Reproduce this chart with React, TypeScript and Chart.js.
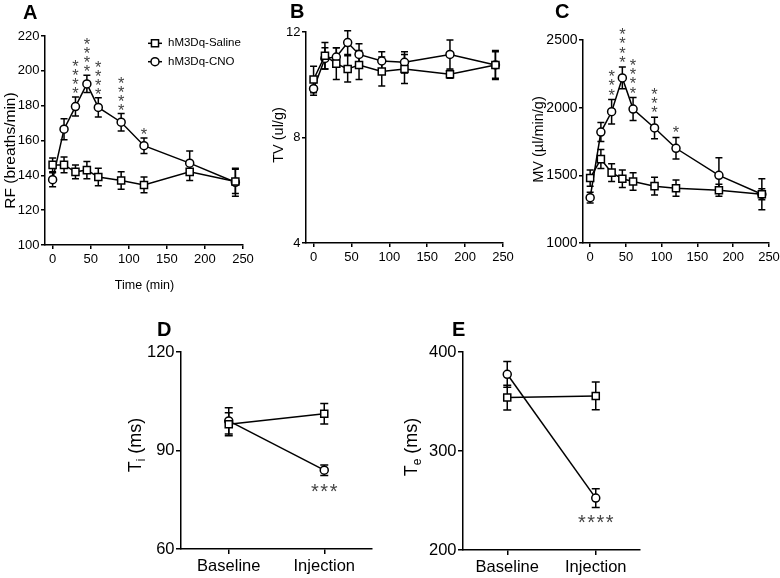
import React, { useEffect, useRef } from 'react';
import { Chart, registerables } from 'chart.js';

Chart.register(...registerables);

const FONT = 'Arial, "Liberation Sans", Helvetica, sans-serif';

// ---------- data ----------
const TIME_MIN = [0, 15, 30, 45, 60, 90, 120, 180, 240];
const TIME_TICKS = [0, 50, 100, 150, 200, 250];

const RF_SALINE = [146, 146, 142, 143, 139, 137, 134.5, 142, 136.5];
const RF_SALINE_SEM = [4, 4.5, 4, 5, 5, 5, 4.5, 5, 7];
const RF_CNO = [137.5, 166.5, 179.5, 192.5, 179, 170.5, 157, 147, 136];
const RF_CNO_SEM = [4, 6, 5.5, 5, 5.5, 5, 4.5, 7, 8];
const RF_STARS = [0, 0, 4, 4, 4, 4, 1, 0, 0];
const RF_TICKS = [100, 120, 140, 160, 180, 200, 220];

const TV_SALINE = [10.2, 11.1, 10.8, 10.6, 10.75, 10.5, 10.6, 10.4, 10.75];
const TV_SALINE_SEM = [0.5, 0.5, 0.6, 0.5, 0.55, 0.55, 0.55, 0.15, 0.5];
const TV_CNO = [9.85, 11.0, 11.05, 11.6, 11.15, 10.9, 10.85, 11.15, 10.75];
const TV_CNO_SEM = [0.25, 0.4, 0.35, 0.45, 0.4, 0.35, 0.4, 0.55, 0.55];
const TV_TICKS = [4, 8, 12];

const MV_SALINE = [1480, 1620, 1520, 1475, 1455, 1420, 1405, 1390, 1360];
const MV_SALINE_SEM = [60, 70, 65, 65, 65, 65, 60, 45, 40];
const MV_CNO = [1335, 1820, 1970, 2220, 1990, 1850, 1700, 1500, 1360];
const MV_CNO_SEM = [40, 70, 90, 80, 85, 80, 80, 130, 115];
const MV_STARS = [0, 0, 3, 4, 4, 3, 1, 0, 0];
const MV_TICKS = [1000, 1500, 2000, 2500];

const PHASES = ['Baseline', 'Injection'];
const TI_SALINE = [98, 101.2];
const TI_SALINE_SEM = [3.5, 3.1];
const TI_CNO = [99, 84];
const TI_CNO_SEM = [4, 1.6];
const TI_STARS = [0, 3];
const TI_TICKS = [60, 90, 120];

const TE_SALINE = [354, 355.6];
const TE_SALINE_SEM = [12.5, 14];
const TE_CNO = [377.5, 252.4];
const TE_CNO_SEM = [13, 9.5];
const TE_STARS = [0, 4];
const TE_TICKS = [200, 300, 400];

const SERIES_NAMES = ['hM3Dq-Saline', 'hM3Dq-CNO'];

// ---------- layout ----------
type Part = { t: string; size: number; sub?: boolean };
type TextItem = { parts: Part[]; x: number; y: number; rotate?: boolean; bold?: boolean; anchor: 'baseline' | 'center'; color?: string };

type PanelCfg = {
  key: string;
  cx: number; cy: number; cw: number; ch: number;
  L: number; T: number; R: number; B: number;
  kind: 'time' | 'phase';
  saline: number[]; salineSem: number[]; cno: number[]; cnoSem: number[];
  yMin: number; yMax: number; yTicks: number[];
  yTickSize: number; xTickSize: number; tickLen: number; cap: number;
  stars?: number[]; starMode?: 'stack' | 'row';
  starSize?: number; starSpacing?: number; starGap?: number;
  texts: TextItem[];
  legend?: boolean;
};

const letter = (t: string, x: number, y: number): TextItem => ({ parts: [{ t, size: 20 }], x, y, bold: true, anchor: 'baseline' });

const PANELS: PanelCfg[] = [
  {
    key: 'A', cx: 0, cy: 0, cw: 262, ch: 300, L: 45, T: 36, R: 243, B: 245,
    kind: 'time', saline: RF_SALINE, salineSem: RF_SALINE_SEM, cno: RF_CNO, cnoSem: RF_CNO_SEM,
    yMin: 100, yMax: 220, yTicks: RF_TICKS, yTickSize: 13, xTickSize: 13, tickLen: 4, cap: 3.5,
    stars: RF_STARS, starMode: 'stack', starSize: 16.5, starSpacing: 9, starGap: 7,
    texts: [
      letter('A', 23, 19),
      { parts: [{ t: 'RF (breaths/min)', size: 15.5 }], x: 10.5, y: 150.5, rotate: true, anchor: 'center' },
      { parts: [{ t: 'Time (min)', size: 12.5 }], x: 144.5, y: 285, anchor: 'center' },
    ],
    legend: true,
  },
  {
    key: 'B', cx: 262, cy: 0, cw: 263, ch: 300, L: 306, T: 32, R: 503, B: 243,
    kind: 'time', saline: TV_SALINE, salineSem: TV_SALINE_SEM, cno: TV_CNO, cnoSem: TV_CNO_SEM,
    yMin: 4, yMax: 12, yTicks: TV_TICKS, yTickSize: 13, xTickSize: 13, tickLen: 4, cap: 3.5,
    texts: [
      letter('B', 290, 18),
      { parts: [{ t: 'TV (ul/g)', size: 14.5 }], x: 278, y: 135, rotate: true, anchor: 'center' },
    ],
  },
  {
    key: 'C', cx: 525, cy: 0, cw: 270, ch: 300, L: 583, T: 40, R: 769, B: 243,
    kind: 'time', saline: MV_SALINE, salineSem: MV_SALINE_SEM, cno: MV_CNO, cnoSem: MV_CNO_SEM,
    yMin: 1000, yMax: 2500, yTicks: MV_TICKS, yTickSize: 14, xTickSize: 13, tickLen: 4, cap: 3.5,
    stars: MV_STARS, starMode: 'stack', starSize: 16.5, starSpacing: 9.3, starGap: 8,
    texts: [
      letter('C', 555, 18),
      { parts: [{ t: 'MV (µl/min/g)', size: 14.5 }], x: 538, y: 139.5, rotate: true, anchor: 'center' },
    ],
  },
  {
    key: 'D', cx: 110, cy: 305, cw: 285, ch: 273, L: 181, T: 352, R: 372, B: 549,
    kind: 'phase', saline: TI_SALINE, salineSem: TI_SALINE_SEM, cno: TI_CNO, cnoSem: TI_CNO_SEM,
    yMin: 60, yMax: 120, yTicks: TI_TICKS, yTickSize: 16.5, xTickSize: 16.5, tickLen: 5, cap: 4,
    stars: TI_STARS, starMode: 'row', starSize: 20, starSpacing: 9.3, starGap: 12.5,
    texts: [
      letter('D', 157, 336),
      { parts: [{ t: 'T', size: 18 }, { t: 'i', size: 12, sub: true }, { t: ' (ms)', size: 18 }], x: 135, y: 445, rotate: true, anchor: 'center' },
    ],
  },
  {
    key: 'E', cx: 395, cy: 305, cw: 290, ch: 273, L: 463, T: 352, R: 640, B: 550,
    kind: 'phase', saline: TE_SALINE, salineSem: TE_SALINE_SEM, cno: TE_CNO, cnoSem: TE_CNO_SEM,
    yMin: 200, yMax: 400, yTicks: TE_TICKS, yTickSize: 16.5, xTickSize: 16.5, tickLen: 5, cap: 4,
    stars: TE_STARS, starMode: 'row', starSize: 20, starSpacing: 9.3, starGap: 11.5,
    texts: [
      letter('E', 452, 336),
      { parts: [{ t: 'T', size: 18 }, { t: 'e', size: 12, sub: true }, { t: ' (ms)', size: 18 }], x: 411, y: 447, rotate: true, anchor: 'center' },
    ],
  },
];

function drawMarker(ctx: CanvasRenderingContext2D, style: string, x: number, y: number, r: number) {
  ctx.beginPath();
  if (style === 'rect') {
    const s = r * Math.SQRT1_2;
    ctx.rect(x - s, y - s, 2 * s, 2 * s);
  } else {
    ctx.arc(x, y, r, 0, Math.PI * 2);
  }
  ctx.fillStyle = '#fff';
  ctx.fill();
  ctx.strokeStyle = '#000';
  ctx.lineWidth = 1.5;
  ctx.stroke();
}

function buildConfig(p: PanelCfg): any {
  const isTime = p.kind === 'time';
  const series = [
    { name: SERIES_NAMES[0], vals: p.saline, sems: p.salineSem, style: 'rect', r: 5 },
    { name: SERIES_NAMES[1], vals: p.cno, sems: p.cnoSem, style: 'circle', r: 4 },
  ];
  const datasets = series.map((s) => ({
    label: s.name,
    data: isTime ? TIME_MIN.map((t, i) => ({ x: t, y: s.vals[i] })) : s.vals.slice(),
    borderColor: '#000',
    borderWidth: 1.5,
    backgroundColor: '#fff',
    pointStyle: s.style,
    pointRadius: s.r,
    pointBackgroundColor: '#fff',
    pointBorderColor: '#000',
    pointBorderWidth: 1.5,
    tension: 0,
    fill: false,
  }));

  const tickGrid = { display: true, drawOnChartArea: false, drawTicks: true, tickLength: p.tickLen, color: '#000', lineWidth: 1.5 };
  const border = { display: true, color: '#000', width: 1.5 };
  const plain = (v: any) => String(v);

  const xScale: any = isTime
    ? {
        type: 'linear', min: -10, max: 250,
        afterBuildTicks: (s: any) => { s.ticks = TIME_TICKS.map((v) => ({ value: v })); },
        afterFit: (s: any) => { s.height = p.cy + p.ch - p.B; },
        grid: tickGrid, border,
        ticks: { color: '#000', font: { family: FONT, size: p.xTickSize }, padding: 3, maxRotation: 0, autoSkip: false, callback: plain },
      }
    : {
        type: 'category', offset: true,
        afterFit: (s: any) => { s.height = p.cy + p.ch - p.B; },
        grid: { ...tickGrid, offset: false }, border,
        ticks: { color: '#000', font: { family: FONT, size: p.xTickSize }, padding: 3, maxRotation: 0, autoSkip: false },
      };

  const yScale: any = {
    type: 'linear', min: p.yMin, max: p.yMax,
    afterBuildTicks: (s: any) => { s.ticks = p.yTicks.map((v) => ({ value: v })); },
    afterFit: (s: any) => { s.width = p.L - p.cx; },
    grid: tickGrid, border,
    ticks: { color: '#000', font: { family: FONT, size: p.yTickSize }, padding: 1.5, autoSkip: false, callback: plain },
  };

  const errorBars = {
    id: 'errorBars_' + p.key,
    beforeDatasetsDraw(chart: any) {
      const ctx = chart.ctx as CanvasRenderingContext2D;
      const ys = chart.scales.y;
      series.forEach((s, di) => {
        const meta = chart.getDatasetMeta(di);
        ctx.save();
        ctx.strokeStyle = '#000';
        ctx.lineWidth = 1.5;
        meta.data.forEach((el: any, i: number) => {
          const x = el.x;
          const yt = ys.getPixelForValue(s.vals[i] + s.sems[i]);
          const yb = ys.getPixelForValue(s.vals[i] - s.sems[i]);
          ctx.beginPath();
          ctx.moveTo(x, yt); ctx.lineTo(x, yb);
          ctx.moveTo(x - p.cap, yt); ctx.lineTo(x + p.cap, yt);
          ctx.moveTo(x - p.cap, yb); ctx.lineTo(x + p.cap, yb);
          ctx.stroke();
        });
        ctx.restore();
      });
    },
  };

  const starPlugin = {
    id: 'stars_' + p.key,
    afterDatasetsDraw(chart: any) {
      if (!p.stars) return;
      const ctx = chart.ctx as CanvasRenderingContext2D;
      const ys = chart.scales.y;
      const s = series[1];
      const meta = chart.getDatasetMeta(1);
      ctx.save();
      ctx.fillStyle = '#444';
      ctx.font = `${p.starSize}px ${FONT}`;
      ctx.textAlign = 'center';
      ctx.textBaseline = 'alphabetic';
      const m = ctx.measureText('*');
      const off = (m.actualBoundingBoxAscent - m.actualBoundingBoxDescent) / 2;
      p.stars.forEach((n, i) => {
        if (!n) return;
        const x = meta.data[i].x;
        if (p.starMode === 'stack') {
          const top = ys.getPixelForValue(s.vals[i] + s.sems[i]);
          for (let k = 0; k < n; k++) {
            const cyy = top - (p.starGap || 7) - k * (p.starSpacing || 9);
            ctx.fillText('*', x, cyy + off);
          }
        } else {
          const bot = ys.getPixelForValue(s.vals[i] - s.sems[i]);
          const cyy = bot + (p.starGap || 12);
          for (let k = 0; k < n; k++) {
            const cxx = x + (k - (n - 1) / 2) * (p.starSpacing || 9);
            ctx.fillText('*', cxx, cyy + off);
          }
        }
      });
      ctx.restore();
    },
  };

  const decor = {
    id: 'decor_' + p.key,
    afterDraw(chart: any) {
      const ctx = chart.ctx as CanvasRenderingContext2D;
      p.texts.forEach((it) => {
        ctx.save();
        ctx.translate(it.x - p.cx, it.y - p.cy);
        if (it.rotate) ctx.rotate(-Math.PI / 2);
        ctx.fillStyle = it.color || '#000';
        ctx.textBaseline = 'alphabetic';
        ctx.textAlign = 'left';
        const fontOf = (pt: Part) => `${it.bold ? 'bold ' : ''}${pt.size}px ${FONT}`;
        let total = 0;
        it.parts.forEach((pt) => { ctx.font = fontOf(pt); total += ctx.measureText(pt.t).width; });
        const base = it.parts[0].size;
        let x0 = it.anchor === 'center' ? -total / 2 : 0;
        const by = it.anchor === 'center' ? base * 0.32 : 0;
        it.parts.forEach((pt) => {
          ctx.font = fontOf(pt);
          ctx.fillText(pt.t, x0, by + (pt.sub ? base * 0.22 : 0));
          x0 += ctx.measureText(pt.t).width;
        });
        ctx.restore();
      });
      if (p.legend) {
        const mx = 155 - p.cx;
        const rows = [43.3 - p.cy, 61.7 - p.cy];
        series.forEach((s, i) => {
          const y = rows[i];
          ctx.save();
          ctx.strokeStyle = '#000';
          ctx.lineWidth = 1.5;
          ctx.beginPath();
          ctx.moveTo(mx - 7, y); ctx.lineTo(mx + 7, y);
          ctx.stroke();
          drawMarker(ctx, s.style, mx, y, s.r);
          ctx.fillStyle = '#000';
          ctx.font = `11.5px ${FONT}`;
          ctx.textAlign = 'left';
          ctx.textBaseline = 'middle';
          ctx.fillText(s.name, 168 - p.cx, y);
          ctx.restore();
        });
      }
    },
  };

  return {
    type: 'line',
    data: { labels: isTime ? undefined : PHASES, datasets },
    options: {
      animation: false,
      responsive: false,
      maintainAspectRatio: false,
      devicePixelRatio: 1,
      events: [],
      layout: { padding: { left: 0, top: p.T - p.cy, right: p.cx + p.cw - p.R, bottom: 0 } },
      plugins: { legend: { display: false }, tooltip: { enabled: false }, title: { display: false } },
      scales: { x: xScale, y: yScale },
    },
    plugins: [errorBars, starPlugin, decor],
  };
}

function Panel({ cfg }: { cfg: PanelCfg }) {
  const ref = useRef<HTMLCanvasElement>(null);
  useEffect(() => {
    if (!ref.current) return;
    const chart = new Chart(ref.current, buildConfig(cfg));
    return () => chart.destroy();
  }, [cfg]);
  return (
    <canvas
      ref={ref}
      width={cfg.cw}
      height={cfg.ch}
      style={{ position: 'absolute', left: cfg.cx, top: cfg.cy, width: cfg.cw, height: cfg.ch }}
    />
  );
}

export default function App() {
  return (
    <div style={{ position: 'absolute', left: 0, top: 0, width: 780, height: 578, overflow: 'hidden', background: '#fff' }}>
      {PANELS.map((p) => (
        <Panel key={p.key} cfg={p} />
      ))}
    </div>
  );
}
